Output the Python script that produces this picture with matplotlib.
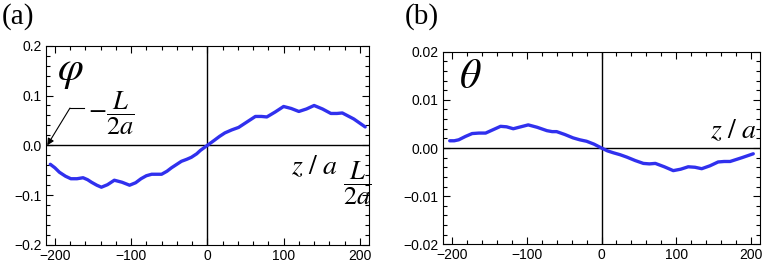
import numpy as np
import matplotlib
matplotlib.use('Agg')
from matplotlib import pyplot as plt
from matplotlib.ticker import MultipleLocator

# data
z_phi = [-206, -200, -194, -186, -179, -171, -163, -157, -152, -145, -139,
         -131, -122, -112, -102, -94, -87, -80, -73, -66, -60, -53, -47, -40,
         -34, -27, -21, -14, -9, 0, 9, 16, 23, 32, 41, 52, 63, 71, 78, 89,
         100, 110, 120, 130, 140, 151, 162, 170, 177, 192, 207]
phi = [-0.038, -0.045, -0.054, -0.062, -0.067, -0.067, -0.065, -0.069,
       -0.074, -0.080, -0.084, -0.079, -0.070, -0.074, -0.080, -0.075,
       -0.067, -0.061, -0.058, -0.058, -0.058, -0.052, -0.045, -0.038,
       -0.032, -0.028, -0.024, -0.017, -0.010, 0.0, 0.010, 0.018, 0.025,
       0.031, 0.036, 0.047, 0.058, 0.058, 0.057, 0.067, 0.078, 0.074, 0.068,
       0.073, 0.080, 0.073, 0.064, 0.064, 0.065, 0.053, 0.037]

z_theta = [-203, -197, -191, -182, -173, -164, -155, -145, -135, -127, -118,
           -108, -98, -86, -73, -66, -60, -49, -38, -29, -20, -10, 0, 8, 16,
           25, 34, 45, 56, 64, 72, 84, 96, 106, 116, 125, 134, 145, 156, 164,
           172, 188, 203]
theta = [0.0015, 0.0015, 0.0017, 0.0024, 0.0030, 0.0031, 0.0031, 0.0038,
         0.0045, 0.0044, 0.0040, 0.0044, 0.0048, 0.0043, 0.0036, 0.0034,
         0.0034, 0.0028, 0.0021, 0.0017, 0.0014, 0.0008, 0.0, -0.0006,
         -0.0010, -0.0014, -0.0019, -0.0026, -0.0032, -0.0033, -0.0032,
         -0.0039, -0.0047, -0.0044, -0.0039, -0.0040, -0.0043, -0.0037,
         -0.0029, -0.0028, -0.0028, -0.0020, -0.0012]

half_len = 212
xticks = [-200, -100, 0, 100, 200]

plt.rcParams['mathtext.fontset'] = 'stix'
plt.rcParams['font.family'] = 'Liberation Sans'

W, H = 763, 269
fig = plt.figure(figsize=(W / 100, H / 100), dpi=100)


def px_axes(left, top, right, bottom):
    return fig.add_axes([left / W, 1 - bottom / H, (right - left) / W, (bottom - top) / H])


def style(ax, ymax, ymajor, yminor, fmt):
    ax.set_xlim(-half_len, half_len)
    ax.set_xticks(xticks)
    ax.set_xticklabels(['\u2212200', '\u2212100', '0', '100', '200'])
    ax.xaxis.set_minor_locator(MultipleLocator(20))
    ax.yaxis.set_minor_locator(MultipleLocator(yminor))
    yt = np.arange(-ymax, ymax + ymajor / 2, ymajor)
    ax.set_yticks(yt)
    ax.set_yticklabels([(fmt % v).replace('-', '\u2212') for v in yt])
    ax.set_ylim(-ymax, ymax)
    ax.tick_params(which='both', direction='in', top=True, right=True,
                   labelsize=10, width=0.8, pad=3)
    ax.tick_params(which='major', length=5)
    ax.tick_params(which='minor', length=3)
    for s in ax.spines.values():
        s.set_linewidth(0.8)
    ax.axhline(0, color='black', lw=1.0, zorder=1)
    ax.axvline(0, color='black', lw=1.0, zorder=1)


# panel (a)
ax1 = px_axes(45.7, 45.7, 369, 245)
style(ax1, 0.2, 0.1, 0.02, '%.1f')
ax1.plot(z_phi, phi, color='#3030ee', lw=2.4, solid_joinstyle='round',
         solid_capstyle='round', zorder=3)
ax1.text(0.035, 0.83, r'$\varphi$', transform=ax1.transAxes, fontsize=30)
ax1.text(0.13, 0.66, r'$-\dfrac{L}{2a}$', transform=ax1.transAxes,
         fontsize=19, va='center', ha='left')
ax1.plot([0.075, 0.12], [0.687, 0.687], transform=ax1.transAxes,
         color='black', lw=0.8, clip_on=False)
ax1.annotate('', xy=(-half_len + 2, 0.0), xycoords='data',
             xytext=(0.075, 0.687), textcoords='axes fraction',
             arrowprops=dict(arrowstyle='-|>', color='black', lw=0.8,
                             mutation_scale=10, shrinkA=0, shrinkB=0))
ax1.text(0.76, 0.39, r'$z\ /\ a$', transform=ax1.transAxes, fontsize=20,
         va='center', ha='left')
ax1.text(0.965, 0.31, r'$\dfrac{L}{2a}$', transform=ax1.transAxes,
         fontsize=19, va='center', ha='center')
fig.text(2 / W, 1 - 17 / H, '(a)', fontsize=21, family='Liberation Serif',
         va='center', ha='left')

# panel (b)
ax2 = px_axes(443, 51.7, 760, 244.3)
style(ax2, 0.02, 0.01, 0.002, '%.2f')
ax2.plot(z_theta, theta, color='#3030ee', lw=2.4, solid_joinstyle='round',
         solid_capstyle='round', zorder=3)
ax2.text(0.05, 0.81, r'$\theta$', transform=ax2.transAxes, fontsize=30)
ax2.text(0.99, 0.52, r'$z\ /\ a$', transform=ax2.transAxes, fontsize=20,
         va='bottom', ha='right')
fig.text(405 / W, 1 - 17 / H, '(b)', fontsize=21, family='Liberation Serif',
         va='center', ha='left')

fig.savefig('out.png', dpi=100)
